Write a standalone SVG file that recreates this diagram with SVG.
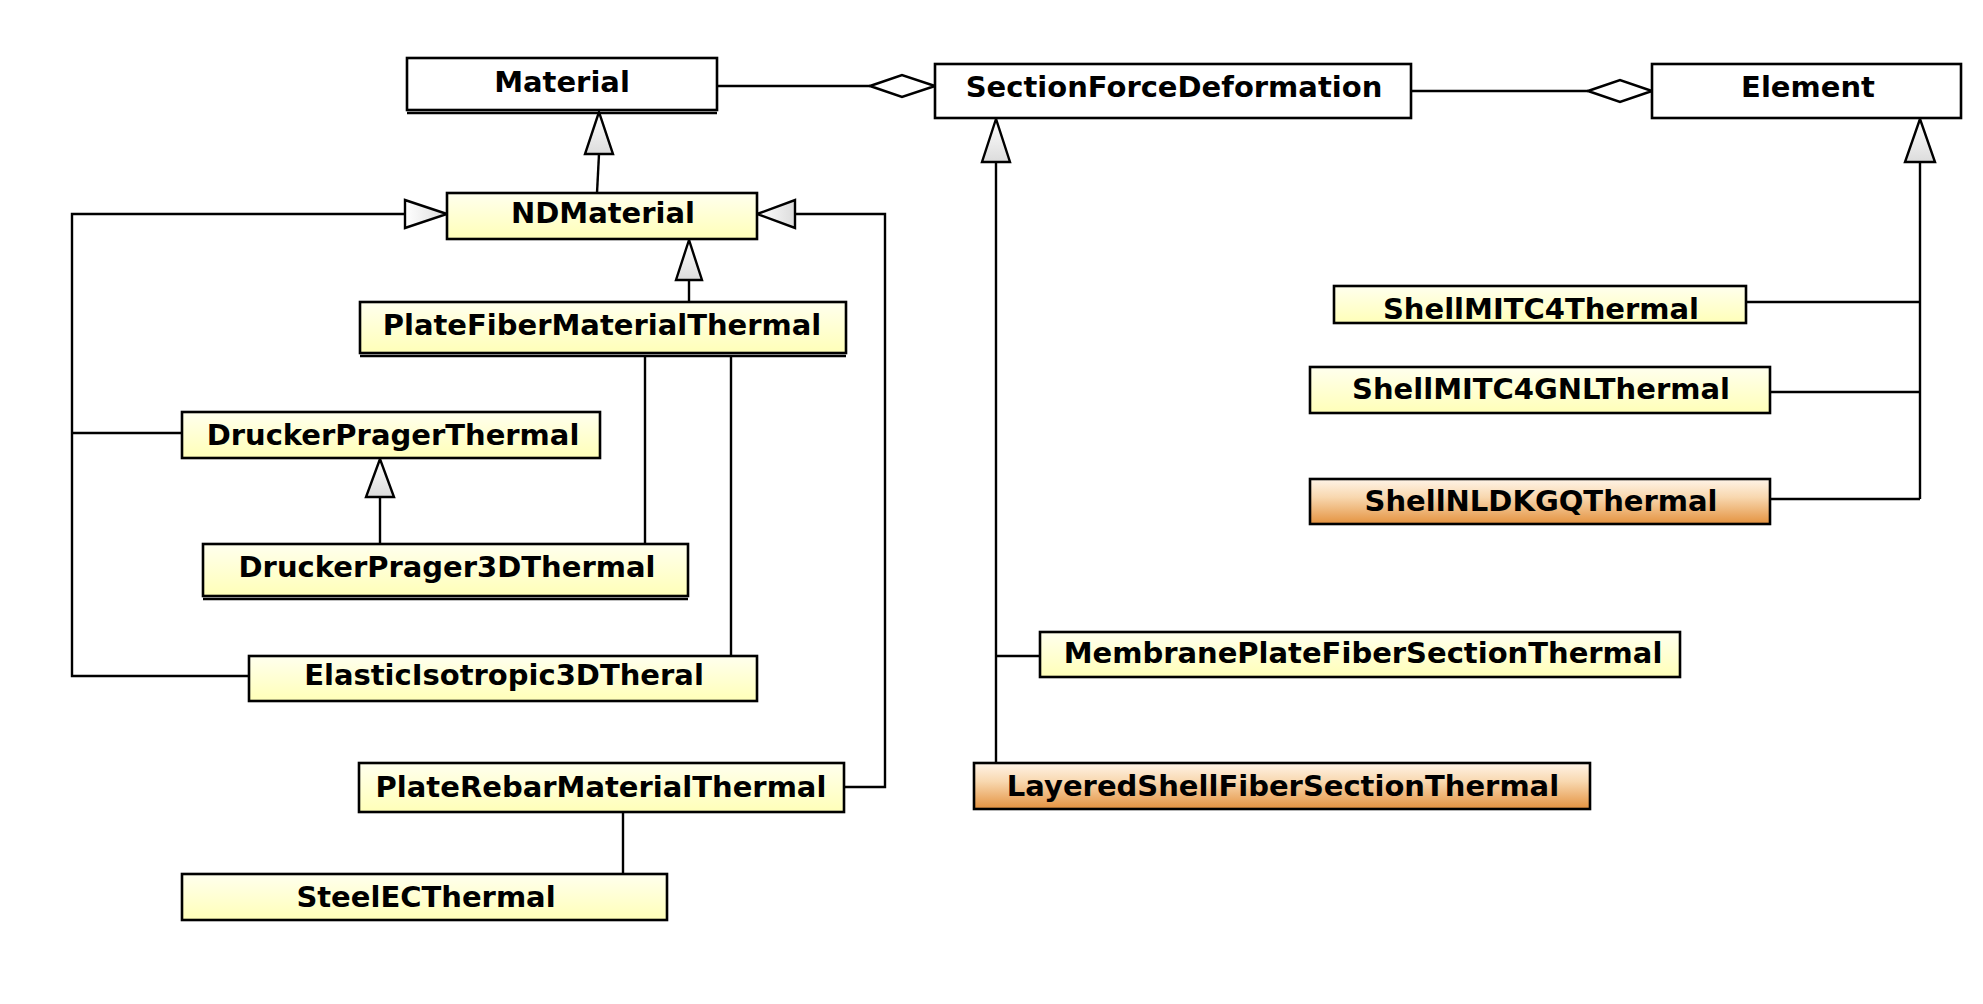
<svg xmlns="http://www.w3.org/2000/svg" width="1983" height="1004" viewBox="0 0 1983 1004">
<defs>
<linearGradient id="gy" x1="0" y1="0" x2="0" y2="1">
<stop offset="0" stop-color="#ffffee"/>
<stop offset="1" stop-color="#ffffb8"/>
</linearGradient>
<linearGradient id="go" x1="0" y1="0" x2="0" y2="1">
<stop offset="0" stop-color="#fff4e8"/>
<stop offset="0.4" stop-color="#f8d8b0"/>
<stop offset="1" stop-color="#e4923f"/>
</linearGradient>
<linearGradient id="gt" x1="0" y1="0" x2="0" y2="1">
<stop offset="0" stop-color="#ffffff"/>
<stop offset="1" stop-color="#dcdcdc"/>
</linearGradient>
<linearGradient id="gth" x1="0" y1="0" x2="1" y2="0">
<stop offset="0" stop-color="#ffffff"/>
<stop offset="1" stop-color="#dcdcdc"/>
</linearGradient>
</defs>
<style>
.box{stroke:#000;stroke-width:2.6}
.w{fill:#fff}
.y{fill:url(#gy)}
.o{fill:url(#go)}
.t{font-family:"DejaVu Sans",Verdana,sans-serif;font-weight:bold;font-size:29px;fill:#000;text-anchor:middle}
.ln{fill:none;stroke:#000;stroke-width:2.4}
.tri{fill:url(#gt);stroke:#000;stroke-width:2.4;stroke-linejoin:miter}
.trih{fill:url(#gth);stroke:#000;stroke-width:2.4}
.dia{fill:#fff;stroke:#000;stroke-width:2.6}
.dbl{stroke:#000;stroke-width:2.6}
</style>
<rect width="1983" height="1004" fill="#fff"/>

<g id="connectors">
<line class="ln" x1="717" y1="86" x2="870" y2="86"/>
<polygon class="dia" points="870,86 902,75 935,86 902,97"/>
<line class="ln" x1="1411" y1="91" x2="1588" y2="91"/>
<polygon class="dia" points="1588,91 1620,80 1652,91 1620,102"/>

<line class="ln" x1="597" y1="193" x2="599" y2="154"/>
<polygon class="tri" points="599,112 585,154 613,154"/>

<polyline class="ln" points="249,676 72,676 72,214 405,214"/>
<line class="ln" x1="72" y1="433" x2="182" y2="433"/>
<polygon class="trih" points="447,214 405,200 405,228"/>

<polyline class="ln" points="844,787 885,787 885,214 795,214"/>
<polygon class="trih" points="757,214 795,200 795,228"/>

<line class="ln" x1="689" y1="302" x2="689" y2="280"/>
<polygon class="tri" points="689,240 676,280 702,280"/>

<line class="ln" x1="645" y1="356" x2="645" y2="544"/>
<line class="ln" x1="731" y1="356" x2="731" y2="656"/>

<line class="ln" x1="380" y1="544" x2="380" y2="497"/>
<polygon class="tri" points="380,459 366,497 394,497"/>

<line class="ln" x1="623" y1="812" x2="623" y2="874"/>

<line class="ln" x1="996" y1="763" x2="996" y2="162"/>
<polygon class="tri" points="996,119 982,162 1010,162"/>
<line class="ln" x1="996" y1="656" x2="1040" y2="656"/>

<line class="ln" x1="1920" y1="499" x2="1920" y2="162"/>
<polygon class="tri" points="1920,119 1905,162 1935,162"/>
<line class="ln" x1="1746" y1="302" x2="1920" y2="302"/>
<line class="ln" x1="1770" y1="392" x2="1920" y2="392"/>
<line class="ln" x1="1770" y1="499" x2="1920" y2="499"/>
</g>

<g id="Material">
<rect class="box w" x="407" y="58" width="310" height="52"/>
<line class="dbl" x1="407" y1="113" x2="717" y2="113"/>
<text class="t" x="562" y="92">Material</text>
</g>
<g id="SectionForceDeformation">
<rect class="box w" x="935" y="64" width="476" height="54"/>
<text class="t" x="1174" y="97">SectionForceDeformation</text>
</g>
<g id="Element">
<rect class="box w" x="1652" y="64" width="309" height="54"/>
<text class="t" x="1808" y="97">Element</text>
</g>
<g id="NDMaterial">
<rect class="box y" x="447" y="193" width="310" height="46"/>
<text class="t" x="603" y="223">NDMaterial</text>
</g>
<g id="PlateFiberMaterialThermal">
<rect class="box y" x="360" y="302" width="486" height="51"/>
<line class="dbl" x1="360" y1="356" x2="846" y2="356"/>
<text class="t" x="602" y="335">PlateFiberMaterialThermal</text>
</g>
<g id="DruckerPragerThermal">
<rect class="box y" x="182" y="412" width="418" height="46"/>
<text class="t" x="393" y="445">DruckerPragerThermal</text>
</g>
<g id="DruckerPrager3DThermal">
<rect class="box y" x="203" y="544" width="485" height="52"/>
<line class="dbl" x1="203" y1="599" x2="688" y2="599"/>
<text class="t" x="447" y="577">DruckerPrager3DThermal</text>
</g>
<g id="ElasticIsotropic3DTheral">
<rect class="box y" x="249" y="656" width="508" height="45"/>
<text class="t" x="504" y="685">ElasticIsotropic3DTheral</text>
</g>
<g id="PlateRebarMaterialThermal">
<rect class="box y" x="359" y="763" width="485" height="49"/>
<text class="t" x="601" y="797">PlateRebarMaterialThermal</text>
</g>
<g id="SteelECThermal">
<rect class="box y" x="182" y="874" width="485" height="46"/>
<text class="t" x="426" y="907">SteelECThermal</text>
</g>
<g id="ShellMITC4Thermal">
<rect class="box y" x="1334" y="286" width="412" height="37"/>
<text class="t" x="1541" y="319">ShellMITC4Thermal</text>
</g>
<g id="ShellMITC4GNLThermal">
<rect class="box y" x="1310" y="367" width="460" height="46"/>
<text class="t" x="1541" y="399">ShellMITC4GNLThermal</text>
</g>
<g id="ShellNLDKGQThermal">
<rect class="box o" x="1310" y="479" width="460" height="45"/>
<text class="t" x="1541" y="511">ShellNLDKGQThermal</text>
</g>
<g id="MembranePlateFiberSectionThermal">
<rect class="box y" x="1040" y="632" width="640" height="45"/>
<text class="t" x="1363" y="663">MembranePlateFiberSectionThermal</text>
</g>
<g id="LayeredShellFiberSectionThermal">
<rect class="box o" x="974" y="763" width="616" height="46"/>
<text class="t" x="1283" y="796">LayeredShellFiberSectionThermal</text>
</g>
</svg>
